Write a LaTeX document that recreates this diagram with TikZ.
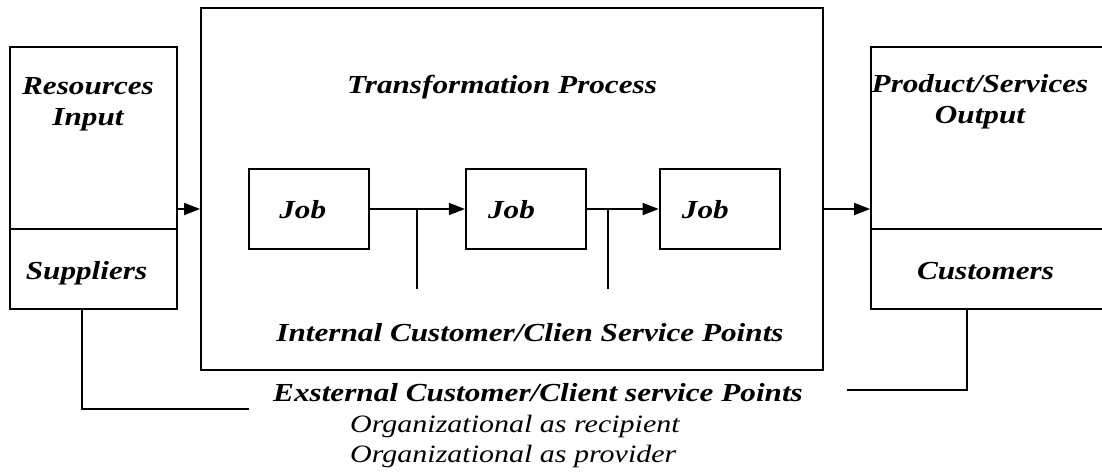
\documentclass[tikz,border=0pt]{standalone}
\usepackage{fontspec}
\setmainfont{Liberation Serif}
\newfontfamily\textoancho{Liberation Serif}[FakeStretch=1.2]
\usepackage{tikz}
\usetikzlibrary{shapes, arrows, positioning, arrows.meta}

\tikzset{
    caja/.style={draw, line width=1.8pt, inner sep=0pt},
    titulo/.style={font=\textoancho\bfseries\itshape\fontsize{26}{31}\selectfont, inner sep=0pt, align=center},
    nota/.style={font=\textoancho\itshape\fontsize{25}{30}\selectfont, inner sep=0pt, align=left},
    flecha/.style={line width=1.8pt, -{Triangle[length=16pt,width=12pt]}},
    linea/.style={line width=1.8pt}
}

\begin{document}
\begin{tikzpicture}[x=1pt, y=-1pt]
        \useasboundingbox (0,0) rectangle (1102,472);
        % Entradas
        \node[caja, minimum width=167pt, minimum height=182pt] (recursos) at (93.5,138) {};
        \node[caja, minimum width=167pt, minimum height=80pt] (proveedores) at (93.5,269) {};
        \node[titulo, anchor=base] (entrada) at (88,125) {Resources\\Input};
        \node[titulo, anchor=base] (txtprov) at (86.5,279) {Suppliers};
        % Proceso de transformacion
        \node[caja, minimum width=622pt, minimum height=362pt] (proceso) at (512,189) {};
        \node[titulo, anchor=base] (txtproceso) at (502,93) {Transformation Process};
        % Trabajos
        \node[caja, minimum width=120pt, minimum height=80pt] (job1) at (309,209) {};
        \node[caja, minimum width=120pt, minimum height=80pt, right=95pt of job1] (job2) {};
        \node[caja, minimum width=120pt, minimum height=80pt, right=72pt of job2] (job3) {};
        \node[titulo, anchor=base west] (txtjob1) at ([xshift=31pt,yshift=-9pt]job1.west) {Job};
        \node[titulo, anchor=base west] (txtjob2) at ([xshift=23pt,yshift=-9pt]job2.west) {Job};
        \node[titulo, anchor=base west] (txtjob3) at ([xshift=23pt,yshift=-9pt]job3.west) {Job};
        % Salidas (la caja sigue fuera del borde derecho)
        \node[caja, minimum width=241pt, minimum height=182pt] (producto) at (991.5,138) {};
        \node[caja, minimum width=241pt, minimum height=80pt] (clientes) at (991.5,269) {};
        \node[titulo, anchor=base] (salida) at (980,123) {Product/Services\\Output};
        \node[titulo, anchor=base] (txtclientes) at (985.5,279) {Customers};
        % Flechas
        \draw[flecha] (recursos.east |- job1) -- (proceso.west |- job1);
        \draw[flecha] (job1.east) -- (job2.west);
        \draw[flecha] (job2.east) -- (job3.west);
        \draw[flecha] (proceso.east |- job3) -- (producto.west |- job3);
        % Puntos de servicio internos
        \coordinate (marca1) at (417,289);
        \coordinate (marca2) at (608,289);
        \draw[linea] (marca1 |- job1) -- (marca1);
        \draw[linea] (marca2 |- job2) -- (marca2);
        \node[titulo, anchor=base] (interno) at (530,341) {Internal Customer/Clien Service Points};
        % Puntos de servicio externos
        \coordinate (extizq) at (249,409);
        \coordinate (extder) at (847,390);
        \draw[linea] ([xshift=-11.5pt]proveedores.south) |- (extizq);
        \draw[linea] ([xshift=-24.5pt]clientes.south) |- (extder);
        \node[titulo, anchor=base] (externo) at (538,401) {Exsternal Customer/Client service Points};
        \node[nota, anchor=base west] (roles) at (350,462) {Organizational as recipient\\Organizational as provider};
\end{tikzpicture}
\end{document}
